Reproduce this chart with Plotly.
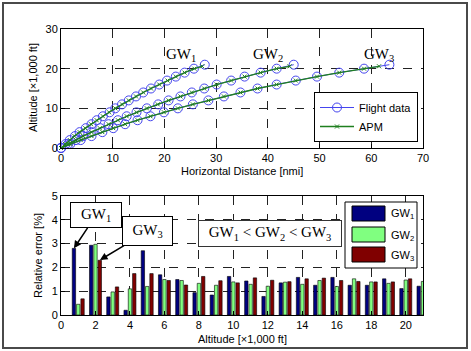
import plotly.graph_objects as go

# ---------------- data ----------------
alt = list(range(22))  # altitude [x1,000 ft]

gw1_fd_x = [0, 0.9, 1.7, 2.7, 3.6, 4.8, 5.9, 6.9, 8.1, 9.4, 10.5, 11.8, 13.1, 14.5, 15.9, 17.4, 19.0, 20.5, 22.2, 23.9, 25.7, 27.8]
gw2_fd_x = [0, 1.4, 2.9, 4.3, 5.9, 7.6, 9.2, 11.0, 12.7, 14.6, 16.6, 18.8, 20.8, 23.1, 25.3, 27.7, 30.1, 32.9, 35.5, 38.6, 41.7, 45.0]
gw3_fd_x = [0, 1.8, 3.8, 5.9, 8.0, 10.1, 12.4, 14.8, 17.3, 19.9, 22.6, 25.5, 28.5, 31.5, 34.7, 38.0, 41.7, 45.4, 49.5, 53.8, 58.6, 63.5]

apm_alt = list(range(21)) + [20.6]
gw1_apm_x = [0, 0.8, 1.7, 2.6, 3.6, 4.7, 5.8, 6.9, 8.1, 9.3, 10.5, 11.8, 13.1, 14.5, 15.9, 17.4, 19.0, 20.6, 22.2, 23.9, 25.8, 27.3]
gw2_apm_x = [0, 1.4, 2.9, 4.3, 5.9, 7.5, 9.2, 11.0, 12.7, 14.6, 16.6, 18.7, 20.8, 23.1, 25.3, 27.7, 30.1, 32.9, 35.5, 38.6, 41.7, 44.2]
gw3_apm_x = [0, 1.8, 3.8, 5.9, 8.0, 10.1, 12.4, 14.8, 17.3, 19.9, 22.6, 25.5, 28.5, 31.5, 34.7, 38.0, 41.7, 45.4, 49.5, 53.8, 58.6, 61.5]

err_alt = list(range(1, 22))
gw1_err = [2.8, 2.93, 0.76, 0.2, 2.7, 1.69, 1.49, 0.94, 0.84, 1.62, 1.43, 0.78, 1.35, 1.58, 1.25, 1.58, 1.25, 1.25, 1.52, 1.11, 1.21]
gw2_err = [0.45, 2.97, 0.97, 1.1, 1.2, 1.49, 1.45, 1.33, 1.25, 1.39, 1.29, 1.21, 1.38, 1.29, 1.45, 1.2, 1.52, 1.39, 1.33, 1.47, 1.41]
gw3_err = [0.68, 2.3, 1.18, 1.74, 1.74, 1.45, 1.26, 1.62, 1.44, 1.35, 1.56, 1.46, 1.40, 1.52, 1.55, 1.45, 1.41, 1.39, 1.39, 1.52, None]

top_xticks = [0, 10, 20, 30, 40, 50, 60, 70]
top_yticks = [0, 10, 20, 30]
bot_xticks = [0, 2, 4, 6, 8, 10, 12, 14, 16, 18, 20]
bot_yticks = [0, 1, 2, 3, 4, 5]

# ---------------- styles ----------------
FD_COLOR = "#4545ee"
APM_COLOR = "#1f7f1f"
BAR_COLORS = ["#000080", "#80ff80", "#800000"]
SANS = "Liberation Sans, Arial, sans-serif"
SERIF = "Liberation Serif, Times New Roman, serif"

L, R, T, B = 61, 423, 29, 315
W, H = R - L, B - T


def px(x):
    return (x - L) / W


def py(y):
    return (B - y) / H


fig = go.Figure()

fd_sets = [gw1_fd_x, gw2_fd_x, gw3_fd_x]
apm_sets = [gw1_apm_x, gw2_apm_x, gw3_apm_x]
for i, xs in enumerate(fd_sets):
    fig.add_trace(go.Scatter(
        x=xs, y=alt, mode="lines+markers", name="Flight data",
        line=dict(color=FD_COLOR, width=1),
        marker=dict(symbol="circle-open", size=9, color=FD_COLOR, line=dict(width=1)),
        showlegend=(i == 0), legendgroup="fd", cliponaxis=False,
        xaxis="x", yaxis="y"))
for i, xs in enumerate(apm_sets):
    fig.add_trace(go.Scatter(
        x=xs, y=apm_alt, mode="lines+markers", name="APM",
        line=dict(color=APM_COLOR, width=1.3),
        marker=dict(symbol="x-thin-open", size=4, color=APM_COLOR, line=dict(width=1, color=APM_COLOR)),
        showlegend=(i == 0), legendgroup="apm", cliponaxis=False,
        xaxis="x", yaxis="y"))

for name, vals, col in zip(["GW1", "GW2", "GW3"], [gw1_err, gw2_err, gw3_err], BAR_COLORS):
    fig.add_trace(go.Bar(
        x=err_alt, y=vals, name=name, marker=dict(color=col, line=dict(color="#000000", width=0.6)),
        showlegend=False, xaxis="x2", yaxis="y2"))

axis_common = dict(
    showline=True, linecolor="black", linewidth=1, mirror=True,
    ticks="inside", ticklen=4, tickcolor="black",
    showgrid=True, gridcolor="#222222", griddash="dash", gridwidth=1,
    zeroline=False, tickfont=dict(family=SANS, size=11, color="black"),
)

fig.update_layout(
    width=471, height=351,
    margin=dict(l=L, r=471 - R, t=T, b=351 - B),
    paper_bgcolor="white", plot_bgcolor="white",
    barmode="group", bargap=0.25, bargroupgap=0.22,
    xaxis=dict(domain=[0, 1], range=[0, 70], tickvals=top_xticks, anchor="y", **axis_common),
    yaxis=dict(domain=[py(148), 1], range=[0, 30], tickvals=top_yticks, anchor="x", **axis_common),
    xaxis2=dict(domain=[0, 1], range=[0, 21], tickvals=bot_xticks, anchor="y2", **axis_common),
    yaxis2=dict(domain=[0, py(196)], range=[0, 5], tickvals=bot_yticks, anchor="x2", **axis_common),
    legend=dict(
        x=px(418), y=py(142), xanchor="right", yanchor="bottom",
        bgcolor="white", bordercolor="black", borderwidth=1,
        font=dict(family=SANS, size=11, color="black"),
        itemwidth=34, tracegroupgap=0, traceorder="normal",
    ),
    showlegend=True,
)

ann = []
title_font = dict(family=SANS, size=11, color="black")
# axis titles
ann.append(dict(text="Altitude [×1,000 ft]", xref="paper", yref="paper", x=px(33), y=py(88),
                xanchor="center", yanchor="middle", textangle=-90, showarrow=False, font=title_font))
ann.append(dict(text="Horizontal Distance [nmi]", xref="paper", yref="paper", x=0.5, y=py(171),
                xanchor="center", yanchor="middle", showarrow=False, font=title_font))
ann.append(dict(text="Relative error [%]", xref="paper", yref="paper", x=px(38), y=py(256),
                xanchor="center", yanchor="middle", textangle=-90, showarrow=False, font=title_font))
ann.append(dict(text="Altitude [×1,000 ft]", xref="paper", yref="paper", x=0.5, y=py(339),
                xanchor="center", yanchor="middle", showarrow=False, font=title_font))

# GW labels on top chart
for txt, xx in [("GW<sub>1</sub>", 23.3), ("GW<sub>2</sub>", 40.0), ("GW<sub>3</sub>", 61.4)]:
    ann.append(dict(text=txt, xref="x", yref="y", x=xx, y=23.5, showarrow=False,
                    xanchor="center", yanchor="middle",
                    font=dict(family=SERIF, size=15, color="black")))

# bottom boxed annotations with arrows
ann.append(dict(text="GW<sub>1</sub>", xref="x2", yref="y2", x=0.75, y=2.8, ax=22, ay=-33,
                showarrow=True, arrowhead=2, arrowsize=1, arrowwidth=1.5, arrowcolor="black",
                bgcolor="white", bordercolor="black", borderwidth=1, borderpad=2,
                width=46, height=20, font=dict(family=SERIF, size=15, color="black")))
ann.append(dict(text="GW<sub>3</sub>", xref="x2", yref="y2", x=2.26, y=2.31, ax=48, ay=-29,
                showarrow=True, arrowhead=2, arrowsize=1, arrowwidth=1.5, arrowcolor="black",
                bgcolor="white", bordercolor="black", borderwidth=1, borderpad=2,
                width=45, height=24, font=dict(family=SERIF, size=15, color="black")))
ann.append(dict(text="GW<sub>1</sub> &lt; GW<sub>2</sub> &lt; GW<sub>3</sub>", xref="x2", yref="y2",
                x=12.12, y=3.42, showarrow=False,
                bgcolor="white", bordercolor="#333333", borderwidth=1, borderpad=2,
                width=138, height=21, font=dict(family=SERIF, size=15, color="black")))

# custom legend for bar chart
shapes = []
shapes.append(dict(type="rect", xref="paper", yref="paper", x0=px(345), x1=px(417), y0=py(268), y1=py(202),
                   fillcolor="white", line=dict(color="black", width=1), layer="above"))
sw_rows = [(206, 221), (227, 242), (247, 262)]
for (y0, y1), col, lab in zip(sw_rows, BAR_COLORS, ["GW<sub>1</sub>", "GW<sub>2</sub>", "GW<sub>3</sub>"]):
    shapes.append(dict(type="rect", xref="paper", yref="paper", x0=px(352), x1=px(385), y0=py(y1), y1=py(y0),
                       fillcolor=col, line=dict(color="#000000", width=1), layer="above"))
    ann.append(dict(text=lab, xref="paper", yref="paper", x=px(389), y=py((y0 + y1) / 2 + 1),
                    xanchor="left", yanchor="middle", showarrow=False,
                    font=dict(family=SANS, size=11, color="black")))

# outer frame
shapes.append(dict(type="rect", xref="paper", yref="paper", x0=px(3), x1=px(467), y0=py(348), y1=py(3),
                   line=dict(color="#4a4a4a", width=2), fillcolor="rgba(0,0,0,0)", layer="above"))

fig.update_layout(annotations=ann, shapes=shapes)

fig.write_html("out.html")
